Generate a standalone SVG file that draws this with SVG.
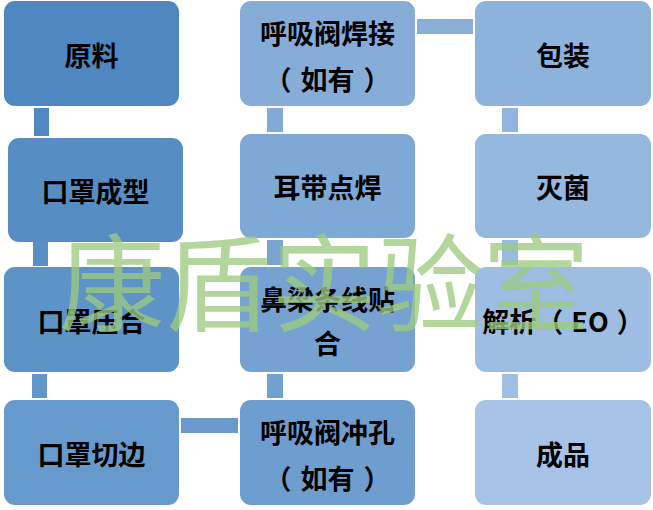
<svg xmlns="http://www.w3.org/2000/svg" width="653" height="510" viewBox="0 0 653 510">
<style>
.b{stroke:none}
.t{font-family:"Noto Sans CJK SC","Noto Sans CJK JP",sans-serif;font-size:27px;font-weight:bold;fill:#000;text-anchor:middle;dominant-baseline:central}
.wm{font-family:"Noto Sans CJK SC","Noto Sans CJK JP",sans-serif;font-size:106px;font-weight:normal;fill:#9ccb7f;fill-opacity:0.78}
</style>
<rect width="653" height="510" fill="#fff"/>
<g id="connectors">
<rect x="34" y="108" width="15" height="28" fill="#5089c1"/>
<rect x="33" y="242" width="15" height="24" fill="#5890c5"/>
<rect x="32" y="374" width="15" height="24" fill="#6196c9"/>
<rect x="181" y="418" width="57" height="15" fill="#6a9acc"/>
<rect x="267" y="374" width="16" height="24" fill="#72a0cf"/>
<rect x="267" y="240" width="16" height="25" fill="#79a4d2"/>
<rect x="267" y="108" width="16" height="24" fill="#82aad5"/>
<rect x="417" y="19" width="56" height="15" fill="#89afd8"/>
<rect x="502" y="108" width="16" height="24" fill="#90b4db"/>
<rect x="502" y="240" width="16" height="25" fill="#98badf"/>
<rect x="502" y="374" width="16" height="24" fill="#a0bee2"/>
</g>
<g id="n1"><rect class="b" x="4" y="1" width="175" height="105" rx="11" fill="#4f87c1"/><text class="t" x="91.5" y="54">原料</text></g>
<g id="n2"><rect class="b" x="8" y="138" width="175" height="104" rx="11" fill="#568ec4"/><text class="t" x="95.5" y="190">口罩成型</text></g>
<g id="n3"><rect class="b" x="4" y="267" width="175" height="105" rx="11" fill="#5e93c7"/><text class="t" x="91.5" y="320">口罩压合</text></g>
<g id="n4"><rect class="b" x="4" y="400" width="175" height="105" rx="11" fill="#6699cc"/><text class="t" x="91.5" y="453">口罩切边</text></g>
<g id="n5"><rect class="b" x="240" y="400" width="175" height="105" rx="11" fill="#6e9ecf"/><text class="t" x="327.5" y="431">呼吸阀冲孔</text><text class="t" x="327.5" y="477">（<tspan dx="9">如有</tspan><tspan dx="9">）</tspan></text></g>
<g id="n6"><rect class="b" x="240" y="267" width="175" height="105" rx="11" fill="#76a2d1"/><text class="t" x="327.5" y="298">鼻梁条线贴</text><text class="t" x="327.5" y="342">合</text></g>
<g id="n7"><rect class="b" x="240" y="134" width="175" height="104" rx="11" fill="#7ea8d5"/><text class="t" x="327.5" y="186">耳带点焊</text></g>
<g id="n8"><rect class="b" x="240" y="1" width="175" height="105" rx="11" fill="#86add8"/><text class="t" x="327.5" y="32">呼吸阀焊接</text><text class="t" x="327.5" y="78">（<tspan dx="9">如有</tspan><tspan dx="9">）</tspan></text></g>
<g id="n9"><rect class="b" x="475" y="1" width="176" height="105" rx="11" fill="#8db2db"/><text class="t" x="563" y="54">包装</text></g>
<g id="n10"><rect class="b" x="475" y="134" width="176" height="104" rx="11" fill="#95b8de"/><text class="t" x="563" y="186">灭菌</text></g>
<g id="n11"><rect class="b" x="475" y="267" width="176" height="105" rx="11" fill="#9dbde2"/><text class="t" x="563" y="320">解析（<tspan dx="8">EO</tspan><tspan dx="8">）</tspan></text></g>
<g id="n12"><rect class="b" x="475" y="400" width="176" height="105" rx="11" fill="#a6c2e6"/><text class="t" x="563" y="453">成品</text></g>
<text class="wm" x="59" y="323">康盾实验室</text>
</svg>
